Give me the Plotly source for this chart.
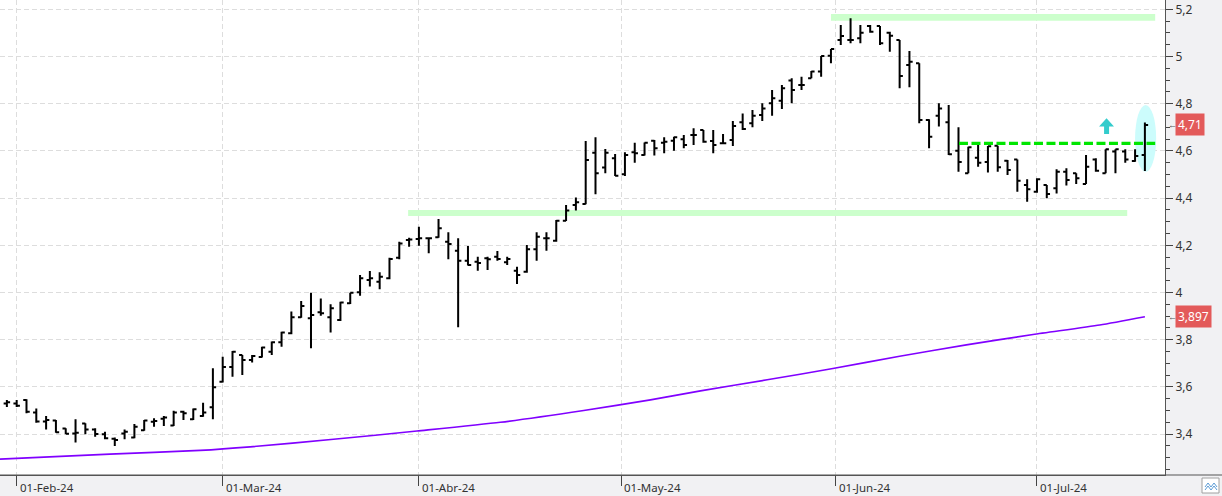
import plotly.graph_objects as go

# ---------------- data ----------------
opens = [3.530, 3.530, 3.545, 3.491, 3.453, 3.458, 3.424, 3.403, 3.445, 3.420,
         3.399, 3.380, 3.403, 3.386, 3.416, 3.452, 3.465, 3.436, 3.495, 3.463,
         3.477, 3.514, 3.622, 3.684, 3.735, 3.714, 3.727, 3.749, 3.789, 3.827,
         3.895, 3.891, 3.916, 3.895, 3.883, 3.954, 4.001, 4.053, 4.046, 4.060,
         4.147, 4.222, 4.227, 4.230, 4.234, 4.215, 4.177, 4.135, 4.130, 4.145,
         4.152, 4.128, 4.092, 4.088, 4.183, 4.230, 4.219, 4.304, 4.371, 4.375,
         4.592, 4.530, 4.569, 4.501, 4.594, 4.583, 4.643, 4.635, 4.643, 4.649,
         4.667, 4.689, 4.642, 4.632, 4.646, 4.721, 4.717, 4.752, 4.802, 4.813,
         4.898, 4.879, 4.908, 4.936, 5.003, 5.070, 5.070, 5.077, 5.129, 5.129,
         5.101, 5.070, 4.964, 4.971, 4.731, 4.749, 4.721, 4.601, 4.505, 4.571,
         4.553, 4.622, 4.558, 4.564, 4.455, 4.427, 4.455, 4.442, 4.512, 4.505,
         4.460, 4.564, 4.505, 4.597, 4.597, 4.557, 4.583]
highs = [3.545, 3.545, 3.548, 3.509, 3.477, 3.460, 3.425, 3.463, 3.446, 3.425,
         3.410, 3.386, 3.420, 3.443, 3.460, 3.467, 3.477, 3.499, 3.499, 3.509,
         3.533, 3.679, 3.728, 3.752, 3.735, 3.735, 3.770, 3.792, 3.834, 3.919,
         3.964, 3.999, 3.975, 3.950, 3.961, 3.999, 4.074, 4.091, 4.086, 4.147,
         4.215, 4.232, 4.279, 4.232, 4.311, 4.255, 4.230, 4.197, 4.152, 4.152,
         4.176, 4.152, 4.109, 4.201, 4.255, 4.255, 4.307, 4.371, 4.403, 4.642,
         4.658, 4.608, 4.587, 4.594, 4.635, 4.636, 4.646, 4.658, 4.660, 4.667,
         4.696, 4.689, 4.689, 4.672, 4.727, 4.759, 4.773, 4.802, 4.858, 4.879,
         4.908, 4.914, 4.939, 5.002, 5.032, 5.133, 5.162, 5.133, 5.133, 5.129,
         5.105, 5.070, 5.023, 4.971, 4.734, 4.802, 4.794, 4.700, 4.618, 4.625,
         4.621, 4.622, 4.561, 4.564, 4.480, 4.484, 4.455, 4.522, 4.526, 4.505,
         4.583, 4.569, 4.607, 4.607, 4.607, 4.607, 4.720]
lows = [3.515, 3.515, 3.488, 3.448, 3.420, 3.406, 3.400, 3.364, 3.399, 3.389,
        3.378, 3.350, 3.378, 3.382, 3.414, 3.431, 3.434, 3.434, 3.460, 3.460,
        3.474, 3.463, 3.619, 3.643, 3.650, 3.703, 3.725, 3.735, 3.770, 3.823,
        3.893, 3.764, 3.902, 3.830, 3.879, 3.951, 3.986, 4.025, 4.014, 4.056,
        4.141, 4.194, 4.198, 4.166, 4.232, 4.141, 3.853, 4.114, 4.092, 4.095,
        4.135, 4.117, 4.036, 4.084, 4.135, 4.177, 4.215, 4.303, 4.347, 4.374,
        4.416, 4.505, 4.494, 4.494, 4.550, 4.580, 4.580, 4.590, 4.601, 4.611,
        4.625, 4.635, 4.590, 4.632, 4.621, 4.689, 4.700, 4.727, 4.749, 4.778,
        4.802, 4.858, 4.908, 4.914, 4.971, 5.049, 5.056, 5.056, 5.101, 5.049,
        5.020, 4.865, 4.870, 4.717, 4.611, 4.703, 4.583, 4.512, 4.505, 4.533,
        4.508, 4.512, 4.498, 4.427, 4.385, 4.423, 4.399, 4.420, 4.453, 4.460,
        4.460, 4.512, 4.505, 4.505, 4.550, 4.554, 4.515]
closes = [3.535, 3.520, 3.495, 3.453, 3.460, 3.408, 3.402, 3.406, 3.420, 3.400,
          3.382, 3.375, 3.410, 3.431, 3.458, 3.456, 3.470, 3.492, 3.488, 3.505,
          3.492, 3.598, 3.684, 3.749, 3.714, 3.731, 3.767, 3.789, 3.831, 3.895,
          3.943, 3.905, 3.912, 3.933, 3.958, 3.999, 4.060, 4.060, 4.067, 4.142,
          4.208, 4.225, 4.230, 4.230, 4.272, 4.206, 4.135, 4.117, 4.125, 4.141,
          4.142, 4.142, 4.074, 4.183, 4.236, 4.230, 4.304, 4.347, 4.382, 4.561,
          4.505, 4.592, 4.495, 4.583, 4.590, 4.635, 4.611, 4.639, 4.658, 4.625,
          4.667, 4.639, 4.625, 4.632, 4.706, 4.693, 4.749, 4.780, 4.823, 4.865,
          4.858, 4.879, 4.936, 5.002, 5.032, 5.087, 5.070, 5.101, 5.105, 5.056,
          5.088, 4.917, 4.978, 4.731, 4.660, 4.780, 4.586, 4.553, 4.615, 4.550,
          4.620, 4.531, 4.519, 4.474, 4.437, 4.480, 4.417, 4.512, 4.477, 4.484,
          4.533, 4.516, 4.607, 4.607, 4.564, 4.578, 4.710]
bar_index = list(range(len(opens)))   # trading-session number, 0 = 31-Jan-24

# moving average (purple line), sampled along its course (session positions)
ma_index = [-0.7, 10.5, 19.7, 24.8, 33.3, 41.8, 50.3, 58.8, 65.6, 70.7, 77.5,
            84.2, 91.0, 97.8, 104.6, 111.4, 116.0]
ma_values = [3.294, 3.315, 3.331, 3.346, 3.378, 3.413, 3.450, 3.500, 3.545, 3.583, 3.630,
             3.678, 3.730, 3.778, 3.822, 3.862, 3.897]

month_tick_pos = [1, 22, 42, 62.6, 84.5, 105]
month_tick_labels = ["01-Feb-24", "01-Mar-24", "01-Abr-24", "01-May-24", "01-Jun-24", "01-Jul-24"]

y_tick_vals = [3.4, 3.6, 3.8, 4.0, 4.2, 4.4, 4.6, 4.8, 5.0, 5.2]
y_tick_labels = ["3,4", "3,6", "3,8", "4", "4,2", "4,4", "4,6", "4,8", "5", "5,2"]

resistance_level = [5.152, 5.180]   # upper green band
support_level = [4.324, 4.350]      # lower green band
breakout_level = 4.632              # dashed green line
last_price = 4.71
last_price_text = "4,71"
ma_last = 3.897
ma_last_text = "3,897"

# ---------------- figure ----------------
W, H = 1222, 496
PLOT_W, PLOT_H = 1165, 475
X_RANGE = [-0.70, 118.05]
Y_RANGE = [3.2267, 5.2394]
FONT = "Noto Sans"

fig = go.Figure()

fig.add_trace(go.Scatter(
    x=ma_index, y=ma_values, mode="lines", line_shape="spline",
    line=dict(color="#8000ff", width=1.6, smoothing=0.6), hoverinfo="skip", showlegend=False))

fig.add_trace(go.Ohlc(
    x=bar_index, open=opens, high=highs, low=lows, close=closes,
    increasing=dict(line=dict(color="#000000", width=2)),
    decreasing=dict(line=dict(color="#000000", width=2)),
    tickwidth=0.33, showlegend=False))

shapes = []
# green horizontal bands
shapes.append(dict(type="rect", xref="x", yref="y", x0=84.0, x1=117.05,
                   y0=resistance_level[0], y1=resistance_level[1],
                   fillcolor="#ccffcc", line=dict(width=0), layer="between"))
shapes.append(dict(type="rect", xref="x", yref="y", x0=40.9, x1=114.2,
                   y0=support_level[0], y1=support_level[1],
                   fillcolor="#ccffcc", line=dict(width=0), layer="between"))
# cyan ellipse around last bar
shapes.append(dict(type="circle", xref="x", yref="y", x0=115.0, x1=117.15,
                   y0=4.512, y1=4.794, fillcolor="#ccfcfc", line=dict(width=0), layer="between"))
# dashed breakout line
shapes.append(dict(type="line", xref="x", yref="y", x0=97.05, x1=117.05,
                   y0=breakout_level, y1=breakout_level,
                   line=dict(color="#00e600", width=3.3, dash="9px,3.5px"), layer="above"))
# cyan up arrow
ax_l, ax_r, ax_c = 111.33, 112.85, 112.09
st_l, st_r = 111.84, 112.35
y_tip, y_base, y_bot = 4.738, 4.703, 4.672
arrow_path = (f"M {ax_c},{y_tip} L {ax_r},{y_base} L {st_r},{y_base} L {st_r},{y_bot} "
              f"L {st_l},{y_bot} L {st_l},{y_base} L {ax_l},{y_base} Z")
shapes.append(dict(type="path", xref="x", yref="y", path=arrow_path,
                   fillcolor="#33cccc", line=dict(width=0), layer="above"))
# bottom axis line running through the right strip as well
shapes.append(dict(type="line", xref="paper", yref="paper", x0=0, x1=W / PLOT_W, y0=0, y1=0,
                   line=dict(color="#555555", width=1.2), layer="above"))
# corner icon
ix0, ix1 = 1202 / PLOT_W, 1219 / PLOT_W
iy0, iy1 = (PLOT_H - 493) / PLOT_H, (PLOT_H - 478) / PLOT_H
shapes.append(dict(type="rect", xref="paper", yref="paper", x0=ix0, x1=ix1, y0=iy0, y1=iy1,
                   fillcolor="#ffffff", line=dict(color="#a0a0a0", width=1), layer="above"))
zig = [(1205, 487), (1208, 483), (1211, 487), (1214, 483), (1217, 487)]
zig2 = [(1205, 490), (1208, 486), (1211, 490), (1214, 486), (1217, 490)]
for pts in (zig, zig2):
    p = "M " + " L ".join(f"{px / PLOT_W},{(PLOT_H - py) / PLOT_H}" for px, py in pts)
    shapes.append(dict(type="path", xref="paper", yref="paper", path=p,
                       line=dict(color="#5b9bd5", width=1), layer="above"))

annotations = []
for pos, lab in zip(month_tick_pos, month_tick_labels):
    annotations.append(dict(x=pos, y=(PLOT_H - 487) / PLOT_H, xref="x", yref="paper",
                            text=lab, showarrow=False, xanchor="left", yanchor="middle",
                            xshift=1, font=dict(family=FONT, size=11.5, color="#333333")))
for val, txt in ((last_price, last_price_text), (ma_last, ma_last_text)):
    annotations.append(dict(x=1174.5 / PLOT_W, y=val, xref="paper", yref="y", text=txt,
                            showarrow=False, xanchor="left", yanchor="middle",
                            bgcolor="#e35a5a", borderpad=2,
                            font=dict(family=FONT, size=12, color="#ffffff")))
    annotations.append(dict(x=1166 / PLOT_W, y=val, xref="paper", yref="y", text="←",
                            showarrow=False, xanchor="left", yanchor="middle",
                            font=dict(family=FONT, size=9, color="#555555")))

fig.update_layout(
    width=W, height=H, autosize=False,
    margin=dict(l=0, r=W - PLOT_W, t=0, b=H - PLOT_H, pad=0),
    paper_bgcolor="#f1f1f3", plot_bgcolor="#ffffff",
    showlegend=False, hovermode=False,
    shapes=shapes, annotations=annotations,
    font=dict(family=FONT, size=12, color="#333333"),
    xaxis=dict(range=X_RANGE, tickmode="array", tickvals=month_tick_pos,
               ticktext=[""] * len(month_tick_pos), showticklabels=False,
               ticks="outside", ticklen=10, tickcolor="#444444", tickwidth=1,
               showgrid=True, gridcolor="#dddddd", griddash="5px,3px", gridwidth=1,
               showline=True, linecolor="#555555", linewidth=1.2,
               zeroline=False, rangeslider=dict(visible=False), fixedrange=True),
    yaxis=dict(range=Y_RANGE, side="right", tickmode="array", tickvals=y_tick_vals,
               ticktext=y_tick_labels, ticks="outside", ticklen=7, tickcolor="#444444",
               tickfont=dict(family=FONT, size=12, color="#333333"),
               showgrid=True, gridcolor="#dddddd", griddash="5px,3px", gridwidth=1,
               showline=True, linecolor="#555555", linewidth=1.2, zeroline=False,
               minor=dict(tickmode="linear", tick0=3.4, dtick=0.05, ticks="outside",
                          ticklen=4, tickcolor="#444444", showgrid=False),
               fixedrange=True),
)

fig.write_html("out.html")
